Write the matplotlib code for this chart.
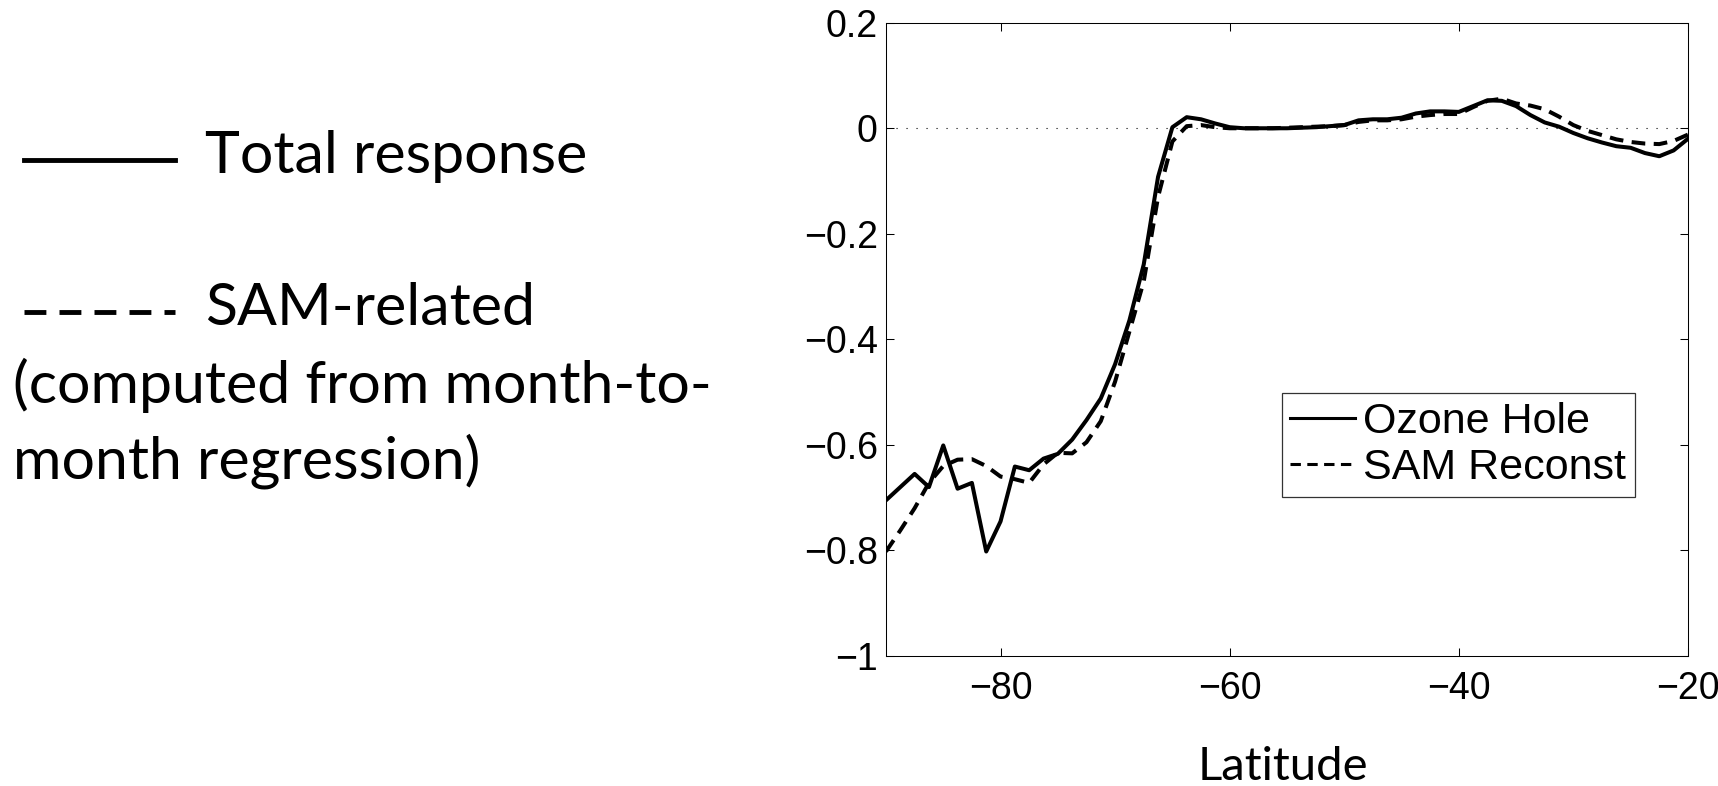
import matplotlib
matplotlib.use("Agg")
import matplotlib.pyplot as plt
from matplotlib.lines import Line2D

# ── data (1.25 deg latitude grid) ──────────────────────────────────────────
lat = [-90.00, -88.75, -87.50, -86.25, -85.00, -83.75, -82.50, -81.25,
       -80.00, -78.75, -77.50, -76.25, -75.00, -73.75, -72.50, -71.25,
       -70.00, -68.75, -67.50, -66.25, -65.00, -63.75, -62.50, -61.25,
       -60.00, -58.75, -57.50, -56.25, -55.00, -53.75, -52.50, -51.25,
       -50.00, -48.75, -47.50, -46.25, -45.00, -43.75, -42.50, -41.25,
       -40.00, -38.75, -37.50, -36.25, -35.00, -33.75, -32.50, -31.25,
       -30.00, -28.75, -27.50, -26.25, -25.00, -23.75, -22.50, -21.25,
       -20.00]

ozone_hole = [-0.705, -0.680, -0.655, -0.680, -0.601, -0.683, -0.672, -0.802,
              -0.745, -0.641, -0.648, -0.626, -0.617, -0.590, -0.553, -0.512,
              -0.447, -0.364, -0.258, -0.092, 0.002, 0.021, 0.017, 0.009,
              0.002, 0.000, 0.000, 0.000, 0.000, 0.001, 0.002, 0.004,
              0.006, 0.015, 0.017, 0.017, 0.020, 0.028, 0.032, 0.032,
              0.031, 0.042, 0.053, 0.052, 0.042, 0.025, 0.011, 0.003,
              -0.009, -0.019, -0.027, -0.034, -0.037, -0.047, -0.053, -0.042,
              -0.020]

sam_reconst = [-0.802, -0.762, -0.720, -0.672, -0.640, -0.628, -0.627, -0.640,
               -0.660, -0.665, -0.672, -0.637, -0.615, -0.616, -0.595, -0.555,
               -0.480, -0.385, -0.290, -0.130, -0.025, 0.004, 0.006, 0.002,
               0.000, 0.000, 0.000, 0.000, 0.001, 0.002, 0.003, 0.004,
               0.006, 0.012, 0.015, 0.015, 0.017, 0.022, 0.025, 0.027,
               0.027, 0.040, 0.052, 0.056, 0.047, 0.043, 0.036, 0.022,
               0.006, -0.005, -0.013, -0.021, -0.026, -0.029, -0.030, -0.024,
               -0.012]

xticks = [-80, -60, -40, -20]
yticks = [-1.0, -0.8, -0.6, -0.4, -0.2, 0.0, 0.2]
ytick_labels = ["\u22121", "\u22120.8", "\u22120.6", "\u22120.4", "\u22120.2", "0", "0.2"]

series_names = ["Ozone Hole", "SAM Reconst"]
side_labels = ["Total response", "SAM-related",
               "(computed from month-to-", "month regression)"]

TICK_FONT = "Liberation Sans"
NOTE_FONT = "Lato"
DASH = (0, (3.4, 2.1))

fig = plt.figure(figsize=(17.18, 7.86), dpi=100)
ax = fig.add_axes([0.5157, 0.1654, 0.4668, 0.8057])

ax.plot(lat, ozone_hole, color="black", lw=2.9, ls="-", label=series_names[0])
ax.plot(lat, sam_reconst, color="black", lw=2.9, ls=DASH, label=series_names[1])
ax.axhline(0, color="black", lw=0.8, ls=(0, (1, 8)), zorder=0)

ax.set_xlim(-90, -20)
ax.set_ylim(-1, 0.2)
ax.set_xticks(xticks)
ax.set_yticks(yticks)
ax.set_yticklabels(ytick_labels)
for lbl in ax.get_xticklabels() + ax.get_yticklabels():
    lbl.set_fontfamily(TICK_FONT)
    lbl.set_fontsize(27)
ax.tick_params(direction="in", length=5.8, width=0.75,
               top=True, right=True, colors="black")
ax.tick_params(axis="x", pad=11)
ax.tick_params(axis="y", pad=6)
for sp in ax.spines.values():
    sp.set_linewidth(0.75)

leg = ax.legend(loc="upper left", bbox_to_anchor=(0.4934, 0.4148),
                borderaxespad=0, frameon=True, fancybox=False,
                prop={"family": TICK_FONT, "size": 31},
                handlelength=1.5, handletextpad=0.2, borderpad=0.2,
                labelspacing=0.15)
leg.get_frame().set_edgecolor("black")
leg.get_frame().set_linewidth(0.9)
for h in leg.get_lines():
    h.set_linewidth(2.2)

# ── annotation key on the left ─────────────────────────────────────────────
fig.add_artist(Line2D([0.014, 0.102], [0.7964, 0.7964], color="black", lw=3.5,
                      transform=fig.transFigure))
fig.add_artist(Line2D([0.014, 0.102], [0.6030, 0.6030], color="black", lw=3.5,
                      ls=(0, (4.5, 2.7)), transform=fig.transFigure))

fig.text(0.1193, 0.780, side_labels[0], family=NOTE_FONT, fontsize=42.5, va="baseline")
fig.text(0.1193, 0.5865, side_labels[1], family=NOTE_FONT, fontsize=42.5, va="baseline")
fig.text(0.0076, 0.4873, side_labels[2], family=NOTE_FONT, fontsize=42.5, va="baseline")
fig.text(0.0076, 0.3906, side_labels[3], family=NOTE_FONT, fontsize=42.5, va="baseline")

fig.text(0.7468, 0.0076, "Latitude", family=NOTE_FONT, fontsize=34,
         ha="center", va="baseline")

plt.savefig("out.png", dpi=100)
